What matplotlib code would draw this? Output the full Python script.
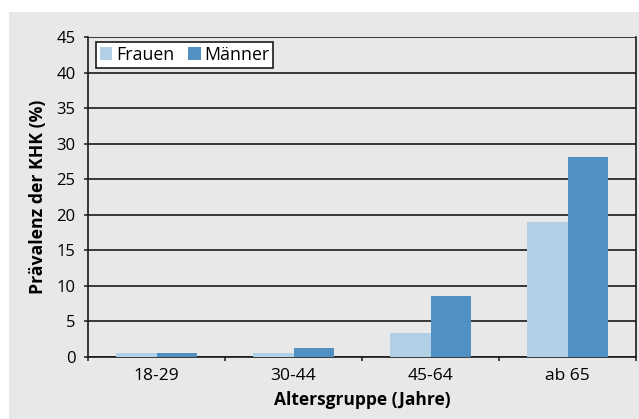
import matplotlib
matplotlib.use("Agg")
from matplotlib import pyplot as plt
from matplotlib.patches import Rectangle
import numpy as np

groups = ["18-29", "30-44", "45-64", "ab 65"]
frauen = [0.6, 0.6, 3.4, 19.0]
maenner = [0.6, 1.3, 8.6, 28.1]

plt.rcParams['font.family'] = ['Open Sans', 'DejaVu Sans']

fig = plt.figure(figsize=(6.39, 4.19), dpi=100)
fig.patch.set_facecolor('white')
# grauer Hintergrund
bg = Rectangle((9/639, 0), 1 - 9/639, 1 - 12/419,
               transform=fig.transFigure, facecolor='#e7e8e7',
               edgecolor='none', zorder=-10)
fig.add_artist(bg)

ax = fig.add_axes([88/639, 1 - 357/419, 548/639, 320/419])
ax.set_facecolor('#e7e8e7')

x = np.arange(len(groups))
w = 0.292
ax.bar(x - w/2, frauen, w, color='#b1d0e5', label='Frauen', zorder=3)
ax.bar(x + w/2, maenner, w, color='#5090c3', label='Männer', zorder=3)

ax.set_xlim(-0.5, 3.5)
ax.set_ylim(0, 45)
ax.set_yticks(range(0, 50, 5))
ax.yaxis.grid(True, color='#1a1a1a', linewidth=1.2, zorder=1)
ax.set_axisbelow(True)

ax.set_xticks(x)
ax.set_xticklabels(groups, fontsize=12.5)
ax.tick_params(axis='x', length=0, pad=8)
ax.set_xticks(np.arange(-0.5, 4, 1), minor=True)
ax.tick_params(axis='x', which='minor', length=3, width=1.1, color='#1a1a1a')
ax.tick_params(axis='y', length=3, width=1.1, labelsize=12, color='#1a1a1a', pad=6)

for s in ['left', 'right', 'bottom']:
    ax.spines[s].set_color('#1a1a1a')
    ax.spines[s].set_linewidth(1.2)
ax.spines['top'].set_visible(False)

ax.set_ylabel('Prävalenz der KHK (%)', fontsize=12.7, fontweight='bold', labelpad=7)
ax.set_xlabel('Altersgruppe (Jahre)', fontsize=12.5, fontweight='bold', labelpad=5)

leg = ax.legend(loc='upper left', ncol=2, fontsize=12.8, frameon=True, fancybox=False,
                handlelength=0.7, handleheight=0.7, handletextpad=0.2,
                columnspacing=0.8, borderpad=0.22, borderaxespad=0,
                bbox_to_anchor=(8/548, 1 - 5/320))
leg.get_frame().set_edgecolor('#1a1a1a')
leg.get_frame().set_linewidth(1.2)
leg.get_frame().set_facecolor('white')
leg.get_frame().set_alpha(1)

fig.savefig('out.png', dpi=100)
